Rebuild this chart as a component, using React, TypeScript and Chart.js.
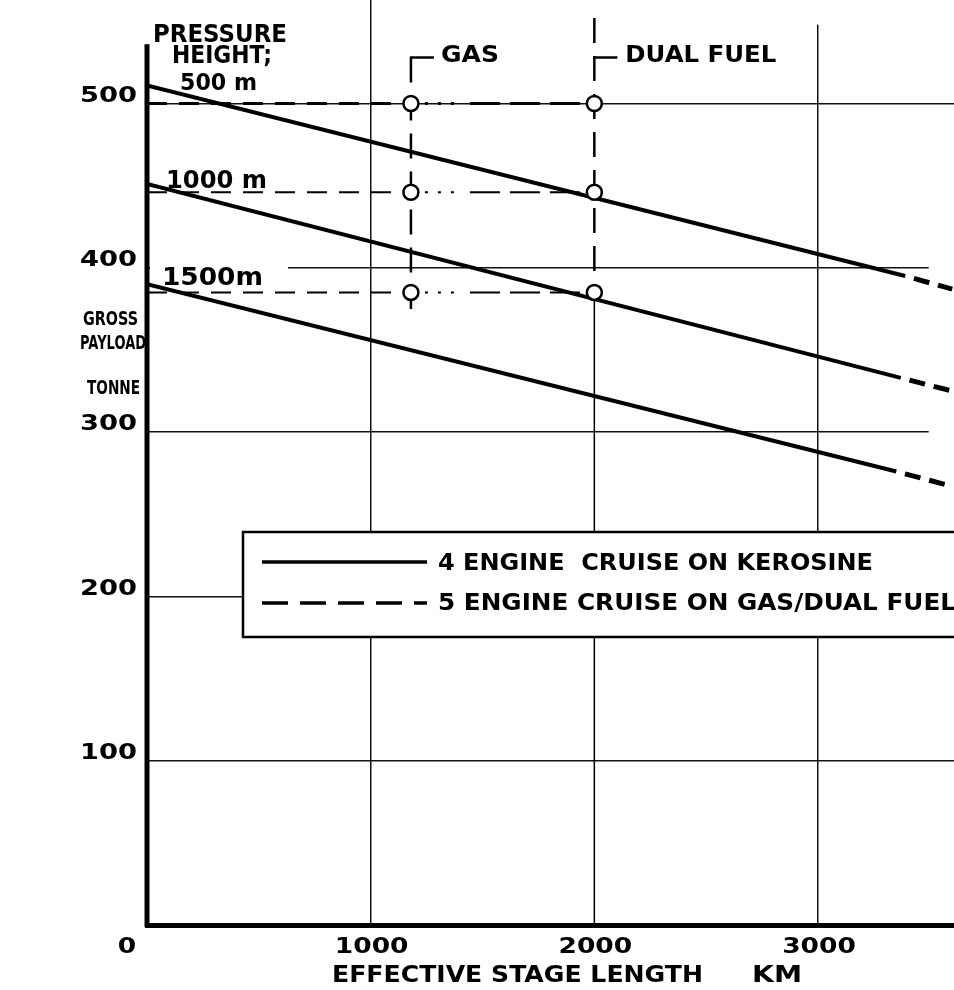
import React, { useEffect, useRef } from "react";
import { Chart, registerables } from "chart.js";

Chart.register(...registerables);

// ---------------- data ----------------
const X_TICK_VALUES = [0, 1000, 2000, 3000];
const X_TICK_LABELS = ["0", "1000", "2000", "3000"];
const Y_TICK_VALUES = [0, 100, 200, 300, 400, 500];
const Y_TICK_LABELS = ["", "100", "200", "300", "400", "500"];

const PRESSURE_HEIGHTS = ["500 m", "1000 m", "1500m"];
const KM_START = [0, 0, 0];
const KM_SOLID_END = [3390, 3370, 3350];
const KM_EDGE = [3600, 3600, 3600];
const PAYLOAD_START = [511, 451, 390];
const PAYLOAD_SOLID_END = [395, 333, 276];
const PAYLOAD_EDGE = [387, 325, 267];

const GAS_KM = 1180;
const DUAL_KM = 2000;
const OPERATING_PAYLOAD = [500, 446, 385];
const GAS_MARKER_RANGE = [528, 375];
const DUAL_MARKER_RANGE = [552, 385];
const Y_AXIS_TOP = 536;
const GRID_3000_TOP = 548;

const MARKER_LABELS = ["GAS", "DUAL FUEL"];
const PRESSURE_TITLE = ["PRESSURE", "HEIGHT;"];
const LEGEND_LABELS = ["4 ENGINE  CRUISE ON KEROSINE", "5 ENGINE CRUISE ON GAS/DUAL FUEL"];
const Y_TITLE_LINES = ["GROSS", "PAYLOAD", "TONNE"];
const X_TITLE_PARTS = ["EFFECTIVE STAGE LENGTH", "KM"];

// ---------------- helpers ----------------
const FONT = '"DejaVu Sans", "Liberation Sans", sans-serif';
const INK = "#000";

function fitText(ctx: any, text: string, left: number, cy: number, width: number, size: number) {
  ctx.save();
  ctx.font = `bold ${size}px ${FONT}`;
  ctx.textAlign = "left";
  ctx.textBaseline = "alphabetic";
  ctx.fillStyle = INK;
  const w = ctx.measureText(text).width || 1;
  ctx.translate(left, cy + size * 0.365);
  ctx.scale(width / w, 1);
  ctx.fillText(text, 0, 0);
  ctx.restore();
}

function stretchText(ctx: any, text: string, x: number, cy: number, size: number, sx: number, align: string) {
  if (!text) return;
  ctx.save();
  ctx.font = `bold ${size}px ${FONT}`;
  ctx.textAlign = "left";
  ctx.textBaseline = "alphabetic";
  ctx.fillStyle = INK;
  const total = ctx.measureText(text).width * sx;
  const left = align === "left" ? x : align === "center" ? x - total / 2 : x - total;
  ctx.translate(left, cy + size * 0.365);
  ctx.scale(sx, 1);
  ctx.fillText(text, 0, 0);
  ctx.restore();
}

function seg(ctx: any, x1: number, y1: number, x2: number, y2: number, w: number, dash: number[] = []) {
  ctx.save();
  ctx.strokeStyle = INK;
  ctx.lineWidth = w;
  ctx.setLineDash(dash);
  ctx.beginPath();
  ctx.moveTo(x1, y1);
  ctx.lineTo(x2, y2);
  ctx.stroke();
  ctx.restore();
}

const decorPlugin = {
  id: "decor",
  beforeDraw(chart: any) {
    const ctx = chart.ctx;
    ctx.save();
    ctx.fillStyle = "#fff";
    ctx.fillRect(0, 0, chart.width, chart.height);
    ctx.restore();
  },
  beforeDatasetsDraw(chart: any) {
    const ctx = chart.ctx;
    const xs = chart.scales.x;
    const ys = chart.scales.y;
    const x0 = xs.getPixelForValue(0);
    ctx.save();
    ctx.fillStyle = "#fff";
    // 400 grid line starts after the "1500m" label
    const y400 = ys.getPixelForValue(400);
    ctx.fillRect(x0 + 3, y400 - 3, 138, 6);
    // 300 and 400 grid lines stop short of the right edge
    const xEnd = xs.getPixelForValue(3495);
    [300, 400].forEach((v) => ctx.fillRect(xEnd, ys.getPixelForValue(v) - 3, xs.right - xEnd + 10, 6));
    // 3000 km grid line starts a little below the top
    const x3 = xs.getPixelForValue(3000);
    ctx.fillRect(x3 - 3, 0, 6, ys.getPixelForValue(GRID_3000_TOP));
    ctx.restore();
    // lower, solid part of the 2000 km grid line
    const x2 = xs.getPixelForValue(DUAL_KM);
    seg(ctx, x2, ys.getPixelForValue(DUAL_MARKER_RANGE[1]), x2, ys.getPixelForValue(0), 1.5);

    // tick labels, placed by the scales
    xs.ticks.forEach((t: any) => {
      const i = X_TICK_VALUES.indexOf(t.value);
      if (i < 0) return;
      const px = xs.getPixelForValue(t.value);
      stretchText(ctx, X_TICK_LABELS[i], i === 0 ? px - 20 : px + 1, xs.top + 20, 21, 1.26, "center");
    });
    ys.ticks.forEach((t: any) => {
      const i = Y_TICK_VALUES.indexOf(t.value);
      if (i < 0) return;
      const py = ys.getPixelForValue(t.value);
      stretchText(ctx, Y_TICK_LABELS[i], ys.right - 10, py - 9.5, 21, 1.3, "right");
    });
  },
  afterDatasetsDraw(chart: any) {
    const ctx = chart.ctx;
    const xs = chart.scales.x;
    const ys = chart.scales.y;
    const ca = chart.chartArea;
    const x0 = xs.getPixelForValue(0);

    // thick y axis
    seg(ctx, x0, ys.getPixelForValue(0) + 2, x0, ys.getPixelForValue(Y_AXIS_TOP), 5);

    // GAS / DUAL FUEL brackets and labels
    const xg = xs.getPixelForValue(GAS_KM);
    const xd = xs.getPixelForValue(DUAL_KM);
    const yb = ys.getPixelForValue(GAS_MARKER_RANGE[0]);
    seg(ctx, xg - 1, yb, xg + 23, yb, 2.5);
    seg(ctx, xd - 1, yb, xd + 23, yb, 2.5);
    fitText(ctx, MARKER_LABELS[0], xg + 30, yb - 3.5, 58, 23);
    fitText(ctx, MARKER_LABELS[1], xd + 31, yb - 3.5, 151, 23);

    // pressure height labels
    const y500 = ys.getPixelForValue(OPERATING_PAYLOAD[0]);
    fitText(ctx, PRESSURE_TITLE[0], x0 + 6, y500 - 70.5, 134, 24);
    fitText(ctx, PRESSURE_TITLE[1], x0 + 25, y500 - 49, 100, 24);
    fitText(ctx, PRESSURE_HEIGHTS[0], x0 + 33, y500 - 21.5, 77, 23);
    fitText(ctx, PRESSURE_HEIGHTS[1], x0 + 19, ys.getPixelForValue(OPERATING_PAYLOAD[1]) - 13, 101, 24);
    fitText(ctx, PRESSURE_HEIGHTS[2], x0 + 15, ys.getPixelForValue(OPERATING_PAYLOAD[2]) - 16, 101, 24);

    // y axis title
    fitText(ctx, Y_TITLE_LINES[0], x0 - 64, 318, 55, 20);
    fitText(ctx, Y_TITLE_LINES[1], x0 - 67, 342, 66, 20);
    fitText(ctx, Y_TITLE_LINES[2], x0 - 60, 387, 53, 20);

    // legend box
    const lx = ca.left + 96;
    const ly = 532;
    ctx.save();
    ctx.fillStyle = "#fff";
    ctx.fillRect(lx, ly, ca.right - lx + 20, 105);
    ctx.strokeStyle = INK;
    ctx.lineWidth = 2.5;
    ctx.strokeRect(lx, ly, ca.right - lx + 20, 105);
    ctx.restore();
    seg(ctx, lx + 19, 562, lx + 184, 562, 3.5);
    seg(ctx, lx + 19, 603, lx + 184, 603, 3.5, [26, 12]);
    fitText(ctx, LEGEND_LABELS[0], lx + 195, 562, 435, 23);
    fitText(ctx, LEGEND_LABELS[1], lx + 195, 602, 518, 23);

    // x axis title
    fitText(ctx, X_TITLE_PARTS[0], x0 + 185, 973.5, 371, 23);
    fitText(ctx, X_TITLE_PARTS[1], x0 + 605, 973.5, 50, 23);
  },
};

// ---------------- component ----------------
export default function App() {
  const canvasRef = useRef<HTMLCanvasElement | null>(null);

  useEffect(() => {
    const canvas = canvasRef.current;
    if (!canvas) return;

    const datasets: any[] = [];
    datasets.push({
      label: "Operating points",
      data: OPERATING_PAYLOAD.flatMap((p) => [
        { x: GAS_KM, y: p },
        { x: DUAL_KM, y: p },
      ]),
      showLine: false,
      pointRadius: 7.5,
      pointBorderWidth: 2.5,
      pointBackgroundColor: "#fff",
      pointBorderColor: INK,
      order: 0,
    });
    PRESSURE_HEIGHTS.forEach((h, i) => {
      datasets.push({
        label: `${h} – 4 engine cruise on kerosine`,
        data: [
          { x: KM_START[i], y: PAYLOAD_START[i] },
          { x: KM_SOLID_END[i], y: PAYLOAD_SOLID_END[i] },
        ],
        showLine: true,
        borderColor: INK,
        borderWidth: 4,
        pointRadius: 0,
        order: 2,
      });
      datasets.push({
        label: `${h} – extension`,
        data: [
          { x: KM_SOLID_END[i], y: PAYLOAD_SOLID_END[i] },
          { x: KM_EDGE[i], y: PAYLOAD_EDGE[i] },
        ],
        showLine: true,
        borderColor: INK,
        borderWidth: 5,
        borderDash: [16, 9],
        borderDashOffset: 16,
        pointRadius: 0,
        order: 2,
      });
      datasets.push({
        label: `${h} – 5 engine level`,
        data: [
          { x: 0, y: OPERATING_PAYLOAD[i] },
          { x: GAS_KM, y: OPERATING_PAYLOAD[i] },
        ],
        showLine: true,
        borderColor: INK,
        borderWidth: i === 0 ? 3 : 2,
        borderDash: [20, 12],
        pointRadius: 0,
        order: 3,
      });
      datasets.push({
        label: `${h} – gas to dual fuel`,
        data: [
          { x: GAS_KM, y: OPERATING_PAYLOAD[i] },
          { x: DUAL_KM, y: OPERATING_PAYLOAD[i] },
        ],
        showLine: true,
        borderColor: INK,
        borderWidth: i === 0 ? 3 : 2,
        borderDash: [0, 14, 3, 10, 3, 10, 3, 16, 30, 10, 30, 10, 30, 10, 30, 10, 30, 10],
        pointRadius: 0,
        order: 3,
      });
    });
    datasets.push({
      label: "Gas marker",
      data: [
        { x: GAS_KM, y: GAS_MARKER_RANGE[0] },
        { x: GAS_KM, y: GAS_MARKER_RANGE[1] },
      ],
      showLine: true,
      borderColor: INK,
      borderWidth: 2.5,
      borderDash: [25, 13],
      pointRadius: 0,
      order: 4,
    });
    datasets.push({
      label: "Dual fuel marker",
      data: [
        { x: DUAL_KM, y: DUAL_MARKER_RANGE[0] },
        { x: DUAL_KM, y: DUAL_MARKER_RANGE[1] },
      ],
      showLine: true,
      borderColor: INK,
      borderWidth: 2.5,
      borderDash: [25, 13],
      pointRadius: 0,
      order: 4,
    });

    const clear = "rgba(0,0,0,0)";

    const chart = new Chart(canvas, {
      type: "scatter",
      data: { datasets },
      plugins: [decorPlugin],
      options: {
        animation: false,
        responsive: false,
        devicePixelRatio: 1,
        layout: { padding: 0, autoPadding: false },
        plugins: { legend: { display: false }, tooltip: { enabled: false } },
        scales: {
          x: {
            type: "linear",
            min: 0,
            max: 3608,
            afterBuildTicks: (s: any) => {
              s.ticks = X_TICK_VALUES.map((v) => ({ value: v }));
            },
            afterFit: (s: any) => {
              s.height = 65;
              s.paddingLeft = 0;
              s.paddingRight = 0;
            },
            grid: {
              color: (c: any) =>
                c.tick && (c.tick.value === 0 || c.tick.value === DUAL_KM) ? clear : "#111",
              lineWidth: 1.5,
              drawTicks: false,
            },
            border: { display: true, color: INK, width: 5 },
            ticks: { display: false },
          },
          y: {
            type: "linear",
            min: 0,
            max: 563,
            afterBuildTicks: (s: any) => {
              s.ticks = Y_TICK_VALUES.map((v) => ({ value: v }));
            },
            afterFit: (s: any) => {
              s.width = 147;
              s.paddingTop = 0;
              s.paddingBottom = 0;
            },
            grid: {
              color: (c: any) => (c.tick && c.tick.value === 0 ? clear : "#111"),
              lineWidth: 1.5,
              drawTicks: false,
            },
            border: { display: false },
            ticks: { display: false },
          },
        },
      } as any,
    });

    return () => chart.destroy();
  }, []);

  return (
    <div style={{ position: "fixed", left: 0, top: 0, width: 954, height: 990, background: "#fff" }}>
      <canvas ref={canvasRef} width={954} height={990} style={{ display: "block" }} />
    </div>
  );
}
